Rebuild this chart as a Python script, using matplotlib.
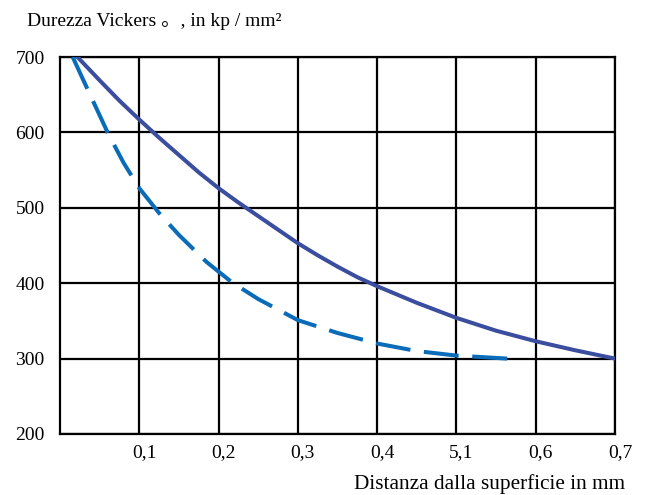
import numpy as np
import matplotlib.pyplot as plt
import matplotlib.transforms as mtransforms

# distanza dalla superficie (mm) and durezza Vickers (kp/mm2)
x_solid = [0.022, 0.05, 0.075, 0.1, 0.125, 0.15, 0.175, 0.2, 0.225, 0.25, 0.275, 0.3,
           0.325, 0.35, 0.375, 0.4, 0.45, 0.5, 0.55, 0.6, 0.65, 0.7]
y_solid = [700, 669, 642, 617, 593, 570, 547, 526, 507, 489, 471, 453,
           437, 422, 408, 396, 374, 354, 337, 323, 311, 300]

x_dash = [0.016, 0.03, 0.045, 0.06, 0.08, 0.1, 0.125, 0.15, 0.185, 0.217, 0.25,
          0.3, 0.35, 0.4, 0.45, 0.5, 0.564]
y_dash = [700, 668, 634, 600, 560, 526, 493, 464, 428, 401, 379,
          351, 334, 320, 310, 304, 300]

xticks = [0.1, 0.2, 0.3, 0.4, 0.5, 0.6, 0.7]
xtick_labels = ["0,1", "0,2", "0,3", "0,4", "5,1", "0,6", "0,7"]
yticks = [200, 300, 400, 500, 600, 700]

plt.rcParams['font.family'] = ['Liberation Serif', 'Noto Sans CJK SC', 'DejaVu Sans']

fig = plt.figure(figsize=(6.46, 4.95), dpi=100)
ax = fig.add_axes([60/646, 61/495, 555/646, 377/495])
ax.set_xlim(0, 0.7)
ax.set_ylim(200, 700)

lw = 2.9
ax.plot(x_solid, y_solid, color='#3a4d9f', lw=lw, solid_joinstyle='round', zorder=3)

# stretch the dash pattern a little so the line starts and ends on a dash
pts = ax.transData.transform(np.column_stack([x_dash, y_dash]))
length = np.hypot(*np.diff(pts, axis=0).T).sum() * 72 / fig.dpi
on, off = 8.5 * lw, 3.3 * lw
n = round((length - on) / (on + off))
k = length / (n * (on + off) + on)
ax.plot(x_dash, y_dash, color='#0a6cb8', lw=lw, dashes=(8.5 * k, 3.3 * k),
        dash_joinstyle='round', zorder=3)

ax.set_xticks(xticks)
ax.set_xticklabels(xtick_labels)
ax.set_yticks(yticks)
ax.grid(True, color='black', lw=1.6)
for s in ax.spines.values():
    s.set_linewidth(1.6)
    s.set_color('black')
ax.tick_params(length=0, labelsize=14)
ax.tick_params(axis='y', pad=11)
ax.tick_params(axis='x', pad=7)
shift = mtransforms.ScaledTranslation(5/100, 0, fig.dpi_scale_trans)
for lbl in ax.get_xticklabels():
    lbl.set_transform(lbl.get_transform() + shift)

fig.text(27/646, 1 - 21/495, "Durezza Vickers 。, in kp / mm²", fontsize=14,
         va='center', ha='left')
fig.text(625/646, 1 - 484/495, "Distanza dalla superficie in mm", fontsize=15.3,
         va='center', ha='right')

fig.savefig('out.png', dpi=100)
